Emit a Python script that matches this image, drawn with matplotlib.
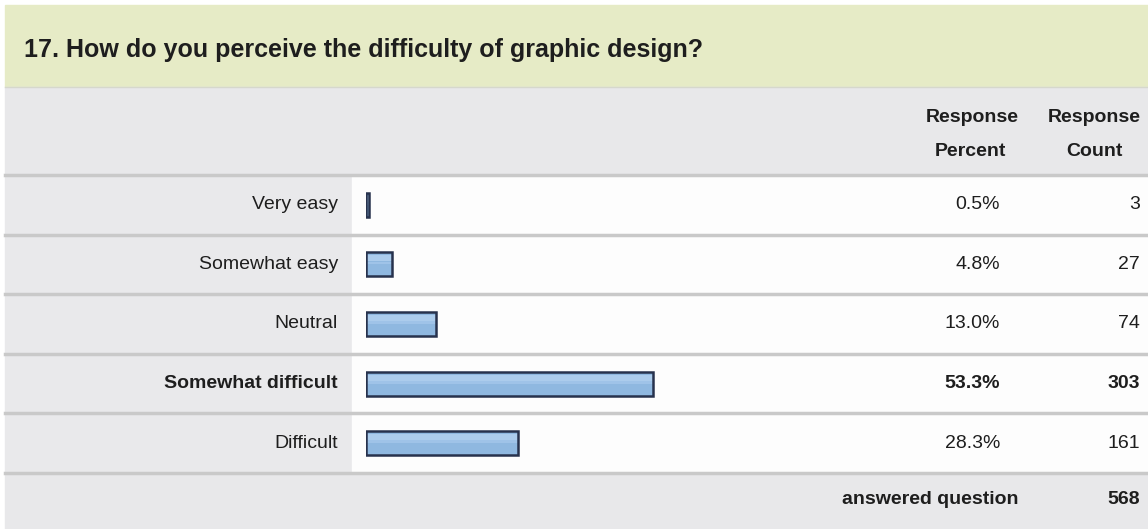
import numpy as np
import matplotlib
matplotlib.use("Agg")
from matplotlib import pyplot as plt
from matplotlib import transforms

# dane z ankiety
title = "17. How do you perceive the difficulty of graphic design?"
answers = ["Very easy", "Somewhat easy", "Neutral", "Somewhat difficult", "Difficult"]
percents = [0.5, 4.8, 13.0, 53.3, 28.3]
counts = [3, 27, 74, 303, 161]
answered = 568
highlight = "Somewhat difficult"

plt.rcParams['font.family'] = ['Liberation Sans', 'DejaVu Sans']

W, H = 1148, 529
fig = plt.figure(figsize=(W / 100, H / 100), dpi=100)

# tło w pikselach
bg = fig.add_axes([0, 0, 1, 1])
bg.set_xlim(0, W)
bg.set_ylim(H, 0)
bg.axis('off')

txt = '#1e1e1e'
bg.add_patch(plt.Rectangle((5, 5), W, 82, color='#e6ebc6', zorder=0))
bg.add_patch(plt.Rectangle((5, 87), W, 88, color='#e8e8ea', zorder=0))
bg.add_patch(plt.Rectangle((5, 175), 347, 298, color='#e9e9eb', zorder=0))
bg.add_patch(plt.Rectangle((352, 175), W, 298, color='#fdfdfd', zorder=0))
bg.add_patch(plt.Rectangle((5, 473), W, 60, color='#e8e8ea', zorder=0))
bg.plot([5, W], [87, 87], color='#d6d8cc', lw=1)

bg.text(24, 50, title, fontsize=18, fontweight='bold', color=txt, va='center', ha='left')
bg.text(972, 118, "Response", fontsize=14, fontweight='bold', color=txt, ha='center', va='center')
bg.text(970, 151, "Percent", fontsize=14, fontweight='bold', color=txt, ha='center', va='center')
bg.text(1094, 118, "Response", fontsize=14, fontweight='bold', color=txt, ha='center', va='center')
bg.text(1094, 151, "Count", fontsize=14, fontweight='bold', color=txt, ha='center', va='center')
bg.text(1019, 500, "answered question", fontsize=14, fontweight='bold', color=txt, ha='right', va='center')
bg.text(1140, 500, str(answered), fontsize=14, fontweight='bold', color=txt, ha='right', va='center')

# oś słupków: 100% = 538 px
top, bottom = 175, 473
ax = fig.add_axes([366 / W, (H - bottom) / H, 538 / W, (bottom - top) / H])
ax.set_xlim(0, 100)
n = len(answers)
y = np.arange(n)
ax.set_ylim(n - 0.5, -0.5)
ax.axis('off')
ax.patch.set_alpha(0)

h = 0.40
ax.barh(y, percents, height=h, color='#8fb8e0', edgecolor='none', zorder=2)
ax.barh(y - h * 0.25, percents, height=h * 0.25, color='#acccec', edgecolor='none', zorder=3)
ax.barh(y - h * 0.06, percents, height=h * 0.12, color='#9fc3e8', edgecolor='none', zorder=3)
ax.barh(y, percents, height=h, facecolor='none', edgecolor='#27324d', linewidth=1.8, zorder=4)

# separatory wierszy
for b in np.arange(-0.5, n + 0.5, 1.0):
    ax.plot([-366 / 538 * 100 + 5 / 538 * 100, (W - 366) / 538 * 100], [b, b],
            color='#c9c9c9', lw=2.5, clip_on=False, zorder=1)

tr = transforms.blended_transform_factory(bg.transData, ax.transData)
for i, (a, p, c) in enumerate(zip(answers, percents, counts)):
    wgt = 'bold' if a == highlight else 'normal'
    ax.text(338, i, a, transform=tr, fontsize=14, fontweight=wgt, color=txt, ha='right', va='center')
    ax.text(1000, i, f"{p:.1f}%", transform=tr, fontsize=14, fontweight=wgt, color=txt, ha='right', va='center')
    ax.text(1140, i, str(c), transform=tr, fontsize=14, fontweight=wgt, color=txt, ha='right', va='center')

fig.savefig("out.png", dpi=100)
